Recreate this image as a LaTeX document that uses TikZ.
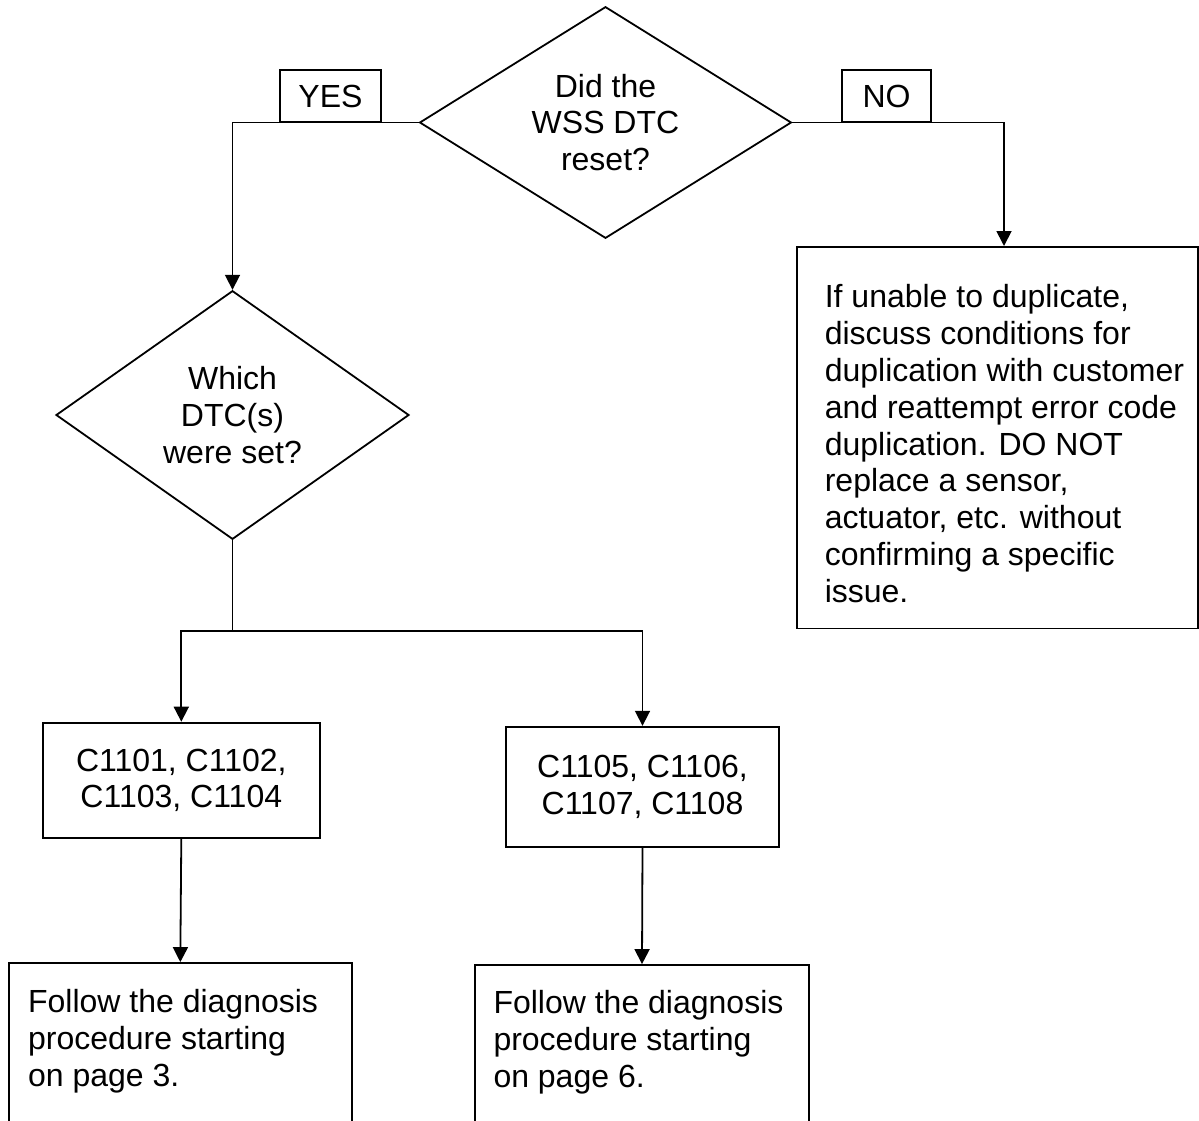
\documentclass[tikz,border=0pt]{standalone}
\usepackage{fontspec}
\setmainfont{Liberation Sans}
\usetikzlibrary{shapes.geometric,arrows.meta}

\begin{document}
\begin{tikzpicture}[x=0.5pt,y=-0.5pt,line width=0.9pt,
        font=\fontsize{16}{18.4}\selectfont,
        decision/.style={draw, diamond, inner sep=0pt, align=center},
        block/.style={draw, rectangle, inner sep=0pt, align=center},
        txt/.style={inner sep=0pt, align=left, anchor=north west},
        arr/.style={-{Triangle[length=7.5pt,width=7.5pt]}}]
        \useasboundingbox (0,0) rectangle (1199,1120);
        \clip (0,0) rectangle (1199,1120);
        % questions
        \node[decision, aspect=1.6, minimum width=185.9pt, minimum height=115.8pt] (reset) at (605.5,122.5) {Did the\\WSS DTC\\reset?};
        \node[decision, aspect=1.4, minimum width=176.5pt, minimum height=124.3pt] (which) at (232.5,415) {Which\\DTC(s)\\were set?};
        % answers
        \node[block, minimum width=50.5pt, minimum height=26pt] (yes) at (330.5,96.3) {YES};
        \node[block, minimum width=44.5pt, minimum height=26pt] (no) at (886.5,96.3) {NO};
        % boxes
        \node[block, minimum width=200.6pt, minimum height=190.8pt] (nobox) at (997.4,437.7) {};
        \node[txt] (notext) at ([xshift=14pt,yshift=-18.85pt]nobox.north west) {If unable to duplicate,\\discuss conditions for\\duplication with customer\\and reattempt error code\\duplication. DO NOT\\replace a sensor,\\actuator, etc. without\\confirming a specific\\issue.};
        \node[block, minimum width=138.7pt, minimum height=57.7pt] (codesA) at (181.3,780.3) {C1101, C1102,\\C1103, C1104};
        \node[block, minimum width=136.5pt, minimum height=60pt] (codesB) at (642.5,786.7) {C1105, C1106,\\C1107, C1108};
        \node[block, minimum width=171.4pt, minimum height=86pt] (page3) at (180.3,1049) {};
        \node[txt] (page3text) at ([xshift=9.6pt,yshift=-13.35pt]page3.north west) {Follow the diagnosis\\procedure starting\\on page 3.};
        \node[block, minimum width=167pt, minimum height=85pt] (page6) at (642,1050) {};
        \node[txt] (page6text) at ([xshift=9.25pt,yshift=-12.85pt]page6.north west) {Follow the diagnosis\\procedure starting\\on page 6.};
        % connectors
        \coordinate (split) at (232.5,630.7);
        \draw[arr] (reset.west) -| (which.north);
        \draw[arr] (reset.east) -| ([xshift=3.3pt]nobox.north);
        \draw (which.south) -- (split);
        \draw[arr] (split) -| (codesA.north);
        \draw[arr] (split) -| (codesB.north);
        \draw[arr] (codesA.south) -- (page3.north);
        \draw[arr] (codesB.south) -- (page6.north);
    \end{tikzpicture}
\end{document}
